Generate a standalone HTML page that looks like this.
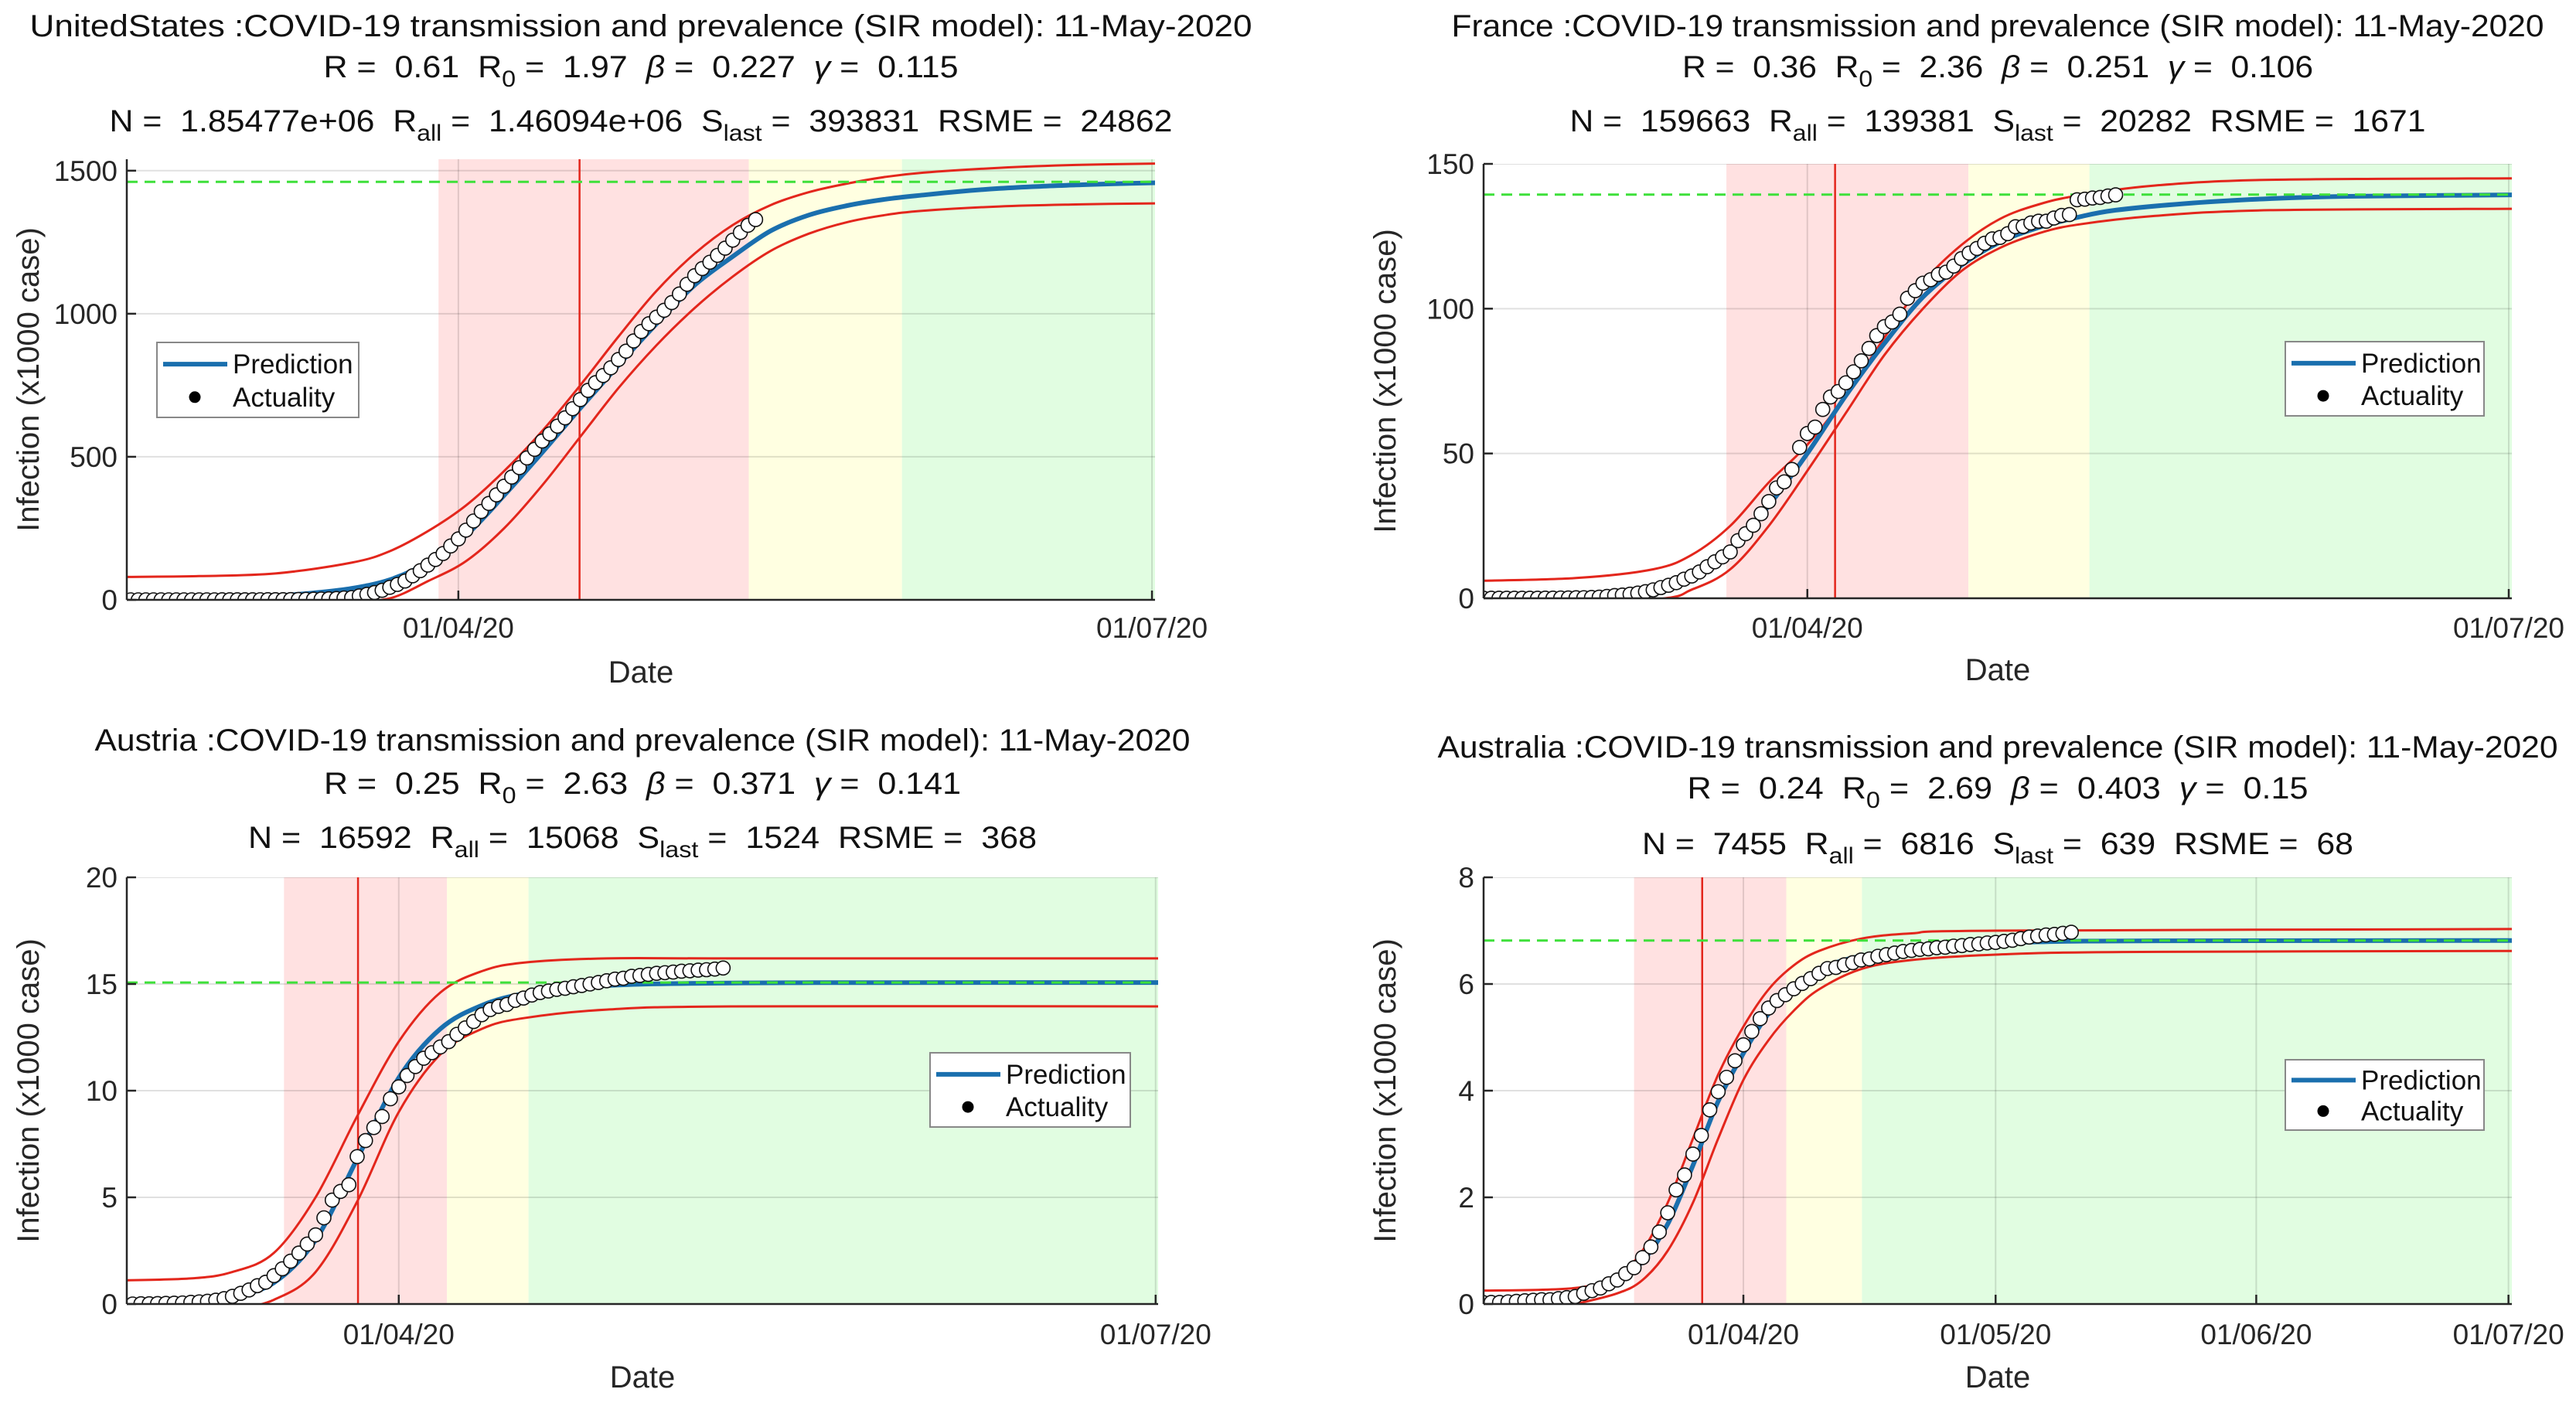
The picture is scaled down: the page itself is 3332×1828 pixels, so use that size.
<!DOCTYPE html>
<html><head><meta charset="utf-8">
<style>
html,body{margin:0;padding:0;background:#fff;}
svg{display:block;font-family:"Liberation Sans",Arial,sans-serif;}
text{white-space:pre;}
</style></head>
<body>
<svg id="fig" width="3332" height="1828" viewBox="0 0 3332 1828" xmlns="http://www.w3.org/2000/svg"></svg>
<script>
// ===== DATA (values in thousands of cases; days relative to 01/04/2020) =====
const usActualStart = -43;
const usActual = [0,0,0,0,0,0,0,0,0,0,0,0,
0.07,0.1,0.12,0.16,0.22,0.32,0.42,0.54,0.6,0.96,1.3,1.7,2.2,2.7,3.5,4.6,6.4,7.8,13.7,19.1,25.5,33.3,43.8,53.7,65.8,83.8,101.7,121.5,140.9,161.8,188.2,
213,243.5,275.6,308.9,337,367,397,429,462,496,526,555,580,607,636,668,700,732,759,784,811,840,869,905,938,965,988,1012,1039,1069,
1103,1133,1158,1180,1204,1229,1257,1284,1309,1329];
const usPredDays = [-44,-39,-34,-29,-24,-19,-14,-9,-4,1,6,11,16,21,26,31,36,41,46,51,56,61,66,71,76,81,86,92];
const usPred = [2,3,5,8,14,24,40,70,130,225,365,515,670,820,965,1100,1200,1290,1345,1378,1400,1415,1428,1438,1445,1450,1454,1458];
const usUpperDays = [-44,-34,-24,-14,-9,-4,1,6,11,16,21,26,31,36,41,46,51,56,61,71,81,92];
const usUpper = [80,83,92,130,170,240,330,450,590,750,920,1080,1210,1310,1380,1425,1455,1478,1493,1510,1520,1525];
const usLowerDays = [-44,-24,-19,-14,-9,-4,1,6,11,16,21,26,31,36,41,46,51,56,61,71,81,92];
const usLower = [-40,-15,-8,-3,5,65,135,250,400,570,740,890,1020,1130,1220,1280,1320,1345,1360,1375,1382,1386];

const frActualStart = -42;
const frActual = [0.01,0.01,0.01,0.01,0.01,0.01,0.02,0.03,0.04,0.06,0.1,
0.13,0.19,0.2,0.29,0.38,0.65,0.95,1.13,1.41,1.78,2.29,2.9,
3.7,4.5,5.4,6.6,7.7,9.1,10.9,12.6,14.3,16.0,19.9,22.3,25.2,29.2,33.4,38.1,40.2,44.5,52.1,
56.9,59.1,65.2,69.5,71.4,74.4,78.2,82.0,86.3,90.7,93.8,95.4,98.1,103.6,106.2,108.8,110.0,111.8,112.6,114.7,117.3,119.2,120.8,122.6,124.1,124.6,125.9,128.3,128.4,129.6,130.2,130.2,131.3,132.2,132.5,137.6,137.8,138.2,138.4,138.9,139.3];
const frPredDays = [-43,-30,-25,-20,-15,-10,-5,0,5,10,15,20,25,30,35,40,50,60,70,92];
const frPred = [0.5,1.2,2.2,4,8,16,32,50,70,88,104,115,123,128,131.5,134,136.5,138,138.8,139.3];
const frUpperDays = [-43,-30,-20,-15,-10,-5,0,5,10,15,20,25,30,35,45,60,92];
const frUpper = [6,7,10,15,25,40,53,70,90,109,122,131,136,139,142.5,144.5,145];
const frLowerDays = [-43,-20,-15,-10,-5,0,5,10,15,20,25,30,35,45,60,92];
const frLower = [-5,-0.5,3,10,25,44,64,84,100,113,121,126,129,132,134,134.5];

const atActualStart = -32;
const atActual = [0,0.01,0.01,0.02,0.03,0.04,0.05,0.08,0.1,0.13,0.18,
0.25,0.36,0.5,0.66,0.86,1.02,1.33,1.65,2.01,2.39,2.81,3.24,4.04,4.87,5.28,5.59,6.91,7.66,8.27,8.79,9.62,
10.18,10.71,11.13,11.52,11.78,12.05,12.3,12.64,12.94,13.24,13.56,13.8,13.95,14.04,14.23,14.34,14.48,14.6,14.67,14.75,14.8,14.87,14.93,15.0,15.07,15.15,15.23,15.27,15.36,15.4,
15.45,15.5,15.53,15.56,15.6,15.62,15.65,15.67,15.7,15.75];
const atPredDays = [-34,-25,-20,-15,-10,-5,0,5,10,15,20,30,50,92];
const atPred = [0,0.1,0.35,1.0,3.0,6.8,10.6,12.9,14.0,14.55,14.8,15.0,15.06,15.07];
const atUpperDays = [-34,-25,-20,-15,-10,-5,0,5,10,15,25,40,92];
const atUpper = [1.1,1.2,1.5,2.4,5,8.8,12.3,14.6,15.6,16.0,16.2,16.2,16.2];
const atLowerDays = [-34,-22,-20,-15,-10,-5,0,5,10,15,25,40,92];
const atLower = [-1,-0.5,-0.3,0.2,1.5,4.8,9,11.7,12.9,13.4,13.8,13.95,13.95];

const auActualStart = -31;
const auActual = [0.03,0.03,0.03,0.04,0.05,0.06,0.07,0.08,0.08,0.1,0.12,0.14,0.2,0.25,
0.3,0.38,0.45,0.57,0.68,0.87,1.07,1.35,1.71,2.14,2.42,2.81,3.16,3.64,3.98,4.25,4.56,
4.86,5.11,5.35,5.55,5.69,5.8,5.91,6.01,6.1,6.2,6.29,6.31,6.36,6.4,6.45,6.47,6.52,6.55,6.58,6.61,6.63,6.65,6.66,6.68,6.69,6.71,6.72,6.74,6.75,6.77,
6.78,6.8,6.82,6.85,6.88,6.9,6.92,6.93,6.95,6.97];
const auPredDays = [-32,-20,-15,-12,-9,-6,-3,0,3,6,9,12,17,25,35,50,92];
const auPred = [0.01,0.1,0.4,0.8,1.5,2.6,3.8,4.7,5.45,5.95,6.25,6.45,6.6,6.72,6.79,6.81,6.816];
const auUpperDays = [-32,-20,-15,-12,-9,-6,-3,0,3,6,9,14,20,30,92];
const auUpper = [0.25,0.3,0.55,1.0,1.9,3.1,4.3,5.2,5.9,6.35,6.62,6.85,6.95,7.0,7.03];
const auLowerDays = [-32,-22,-20,-15,-12,-9,-6,-3,0,3,6,9,14,20,30,45,92];
const auLower = [-0.2,-0.05,0,0.2,0.45,1.0,1.9,3.1,4.2,4.95,5.5,5.9,6.28,6.45,6.55,6.6,6.62];

const rAll = [1460.94, 139.381, 15.068, 6.816];
const yTicksUS = [0,500,1000,1500];
const yTicksFR = [0,50,100,150];
const yTicksAT = [0,5,10,15,20];
const yTicksAU = [0,2,4,6,8];
const xTickDaysShort = [0,91];
const xTickLabelsShort = ["01/04/20","01/07/20"];
const xTickDaysAU = [0,30,61,91];
const xTickLabelsAU = ["01/04/20","01/05/20","01/06/20","01/07/20"];
// phase boundaries (days): red start, red end / yellow end, and peak line
const usPhases = [-2.6,38.1,58.2,15.9];
const frPhases = [-10.5,20.9,36.6,3.6];
const atPhases = [-13.8,5.8,15.6,-4.9];
const auPhases = [-13,5.1,14.1,-4.9];

// ===== LAYOUT =====
const NS="http://www.w3.org/2000/svg";
const svg=document.getElementById('fig');
function mk(tag,attrs,parent){const e=document.createElementNS(NS,tag);for(const k in attrs)e.setAttribute(k,attrs[k]);(parent||svg).appendChild(e);return e;}

const panels=[
 {id:'us',name:'UnitedStates',x0:164,x1:1494,yb:776,yt:206,ymax:1540,dmin:-43.5,dmax:91.4,
  yTicks:yTicksUS,xd:xTickDaysShort,xl:xTickLabelsShort,ph:usPhases,
  act:usActual,actStart:usActualStart,pd:usPredDays,pv:usPred,ud:usUpperDays,uv:usUpper,ld:usLowerDays,lv:usLower,rall:rAll[0],
  t:[34,87,157],tw:[1581,821,1375],
  l2:['0.61','1.97','0.227','0.115'],l3:['1.85477e+06','1.46094e+06','393831','24862'],
  leg:[203,443,464,540],xlY:812,xtY:869},
 {id:'fr',name:'France',x0:1919,x1:3249,yb:774,yt:212,ymax:150,dmin:-42.0,dmax:91.4,
  yTicks:yTicksFR,xd:xTickDaysShort,xl:xTickLabelsShort,ph:frPhases,
  act:frActual,actStart:frActualStart,pd:frPredDays,pv:frPred,ud:frUpperDays,uv:frUpper,ld:frLowerDays,lv:frLower,rall:rAll[1],
  t:[34,87,157],tw:[1413,816,1107],
  l2:['0.36','2.36','0.251','0.106'],l3:['159663','139381','20282','1671'],
  leg:[2956,442,3213,538],xlY:812,xtY:866},
 {id:'at',name:'Austria',x0:164,x1:1498,yb:1687,yt:1135,ymax:20,dmin:-32.7,dmax:91.3,
  yTicks:yTicksAT,xd:xTickDaysShort,xl:xTickLabelsShort,ph:atPhases,
  act:atActual,actStart:atActualStart,pd:atPredDays,pv:atPred,ud:atUpperDays,uv:atUpper,ld:atLowerDays,lv:atLower,rall:rAll[2],
  t:[958,1014,1084],tw:[1417,824,1020],
  l2:['0.25','2.63','0.371','0.141'],l3:['16592','15068','1524','368'],
  leg:[1203,1362,1462,1458],xlY:1726,xtY:1781},
 {id:'au',name:'Australia',x0:1919,x1:3249,yb:1687,yt:1135,ymax:8,dmin:-30.9,dmax:91.4,
  yTicks:yTicksAU,xd:xTickDaysAU,xl:xTickLabelsAU,ph:auPhases,
  act:auActual,actStart:auActualStart,pd:auPredDays,pv:auPred,ud:auUpperDays,uv:auUpper,ld:auLowerDays,lv:auLower,rall:rAll[3],
  t:[967,1020,1092],tw:[1449,803,920],
  l2:['0.24','2.69','0.403','0.15'],l3:['7455','6816','639','68'],
  leg:[2956,1371,3213,1462],xlY:1726,xtY:1781}
];

function crPath(pts){
  let d='M'+pts[0][0].toFixed(1)+','+pts[0][1].toFixed(1);
  for(let i=0;i<pts.length-1;i++){
    const p0=pts[Math.max(0,i-1)],p1=pts[i],p2=pts[i+1],p3=pts[Math.min(pts.length-1,i+2)];
    const c1=[p1[0]+(p2[0]-p0[0])/6,p1[1]+(p2[1]-p0[1])/6];
    const c2=[p2[0]-(p3[0]-p1[0])/6,p2[1]-(p3[1]-p1[1])/6];
    d+=' C'+c1[0].toFixed(1)+','+c1[1].toFixed(1)+' '+c2[0].toFixed(1)+','+c2[1].toFixed(1)+' '+p2[0].toFixed(1)+','+p2[1].toFixed(1);
  }
  return d;
}

panels.forEach(P=>{
  const g=mk('g',{});
  
  
  const xs=d=>P.x0+(d-P.dmin)/(P.dmax-P.dmin)*(P.x1-P.x0);
  const ys=v=>P.yb-v/P.ymax*(P.yb-P.yt);
  const cx=(P.x0+P.x1)/2;
  // titles
  const t1=mk('text',{x:cx,y:P.t[0]+13,'text-anchor':'middle','font-size':40,textLength:P.tw[0],lengthAdjust:'spacingAndGlyphs',fill:'#111'},g);
  t1.textContent=P.name+' :COVID-19 transmission and prevalence (SIR model): 11-May-2020';
  
  
  const t2=mk('text',{x:cx,y:P.t[1]+13,'text-anchor':'middle','font-size':40,textLength:P.tw[1],lengthAdjust:'spacingAndGlyphs',fill:'#111'},g);
  t2.innerHTML='R =  '+P.l2[0]+'  R<tspan font-size="30" dy="12">0</tspan><tspan dy="-12"> =  '+P.l2[1]+'  </tspan><tspan font-style="italic">β</tspan> =  '+P.l2[2]+'  <tspan font-style="italic">γ</tspan> =  '+P.l2[3];
  
  
  const t3=mk('text',{x:cx,y:P.t[2]+13,'text-anchor':'middle','font-size':40,textLength:P.tw[2],lengthAdjust:'spacingAndGlyphs',fill:'#111'},g);
  t3.innerHTML='N =  '+P.l3[0]+'  R<tspan font-size="30" dy="12">all</tspan><tspan dy="-12"> =  '+P.l3[1]+'  S</tspan><tspan font-size="30" dy="12">last</tspan><tspan dy="-12"> =  '+P.l3[2]+'  RSME =  '+P.l3[3]+'</tspan>';
  
  

  // clip
  const cp=mk('clipPath',{id:'clip-'+P.id},g);
  mk('rect',{x:P.x0,y:P.yt,width:P.x1-P.x0,height:P.yb-P.yt},cp);
  const pg=mk('g',{'clip-path':'url(#clip-'+P.id+')'},g);

  // phase bands
  const bands=[[P.ph[0],P.ph[1],'#ffe1e1','red-phase-band'],[P.ph[1],P.ph[2],'#ffffe1','yellow-phase-band'],[P.ph[2],P.dmax,'#e1fde1','green-phase-band']];
  bands.forEach(b=>{
    const r=mk('rect',{x:xs(b[0]),y:P.yt,width:xs(b[1])-xs(b[0]),height:P.yb-P.yt,fill:b[2]},pg);
    
    
  });
  // grid
  P.yTicks.forEach(v=>{
    const l=mk('line',{x1:P.x0,x2:P.x1,y1:ys(v),y2:ys(v),stroke:'#000','stroke-opacity':0.12,'stroke-width':2},pg);
    
    
  });
  P.xd.forEach(d=>{
    const l=mk('line',{x1:xs(d),x2:xs(d),y1:P.yt,y2:P.yb,stroke:'#000','stroke-opacity':0.12,'stroke-width':2},pg);
    
    
  });
  // peak line
  const pk=mk('line',{x1:xs(P.ph[3]),x2:xs(P.ph[3]),y1:P.yt,y2:P.yb,stroke:'#e3261c','stroke-width':2.5},pg);
  
  
  // bounds
  const up=mk('path',{d:crPath(P.ud.map((d,i)=>[xs(d),ys(P.uv[i])])),fill:'none',stroke:'#e3261c','stroke-width':3},pg);
  
  
  const lo=mk('path',{d:crPath(P.ld.map((d,i)=>[xs(d),ys(P.lv[i])])),fill:'none',stroke:'#e3261c','stroke-width':3},pg);
  
  
  // prediction
  const pr=mk('path',{d:crPath(P.pd.map((d,i)=>[xs(d),ys(P.pv[i])])),fill:'none',stroke:'#1a6fae','stroke-width':6},pg);
  
  
  // R_all dashed
  const ra=mk('line',{x1:P.x0,x2:P.x1,y1:ys(P.rall),y2:ys(P.rall),stroke:'#3ee03a','stroke-width':3,'stroke-dasharray':'14,9'},pg);
  
  
  // actual dots
  P.act.forEach((v,i)=>{
    const c=mk('circle',{cx:xs(P.actStart+i),cy:ys(v),r:9,fill:'#fff',stroke:'#111','stroke-width':1.6},pg);
    
    
  });

  // axes
  const ax=mk('line',{x1:P.x0,x2:P.x0,y1:P.yt,y2:P.yb,stroke:'#262626','stroke-width':2.5},g);
  
  
  const bx=mk('line',{x1:P.x0,x2:P.x1,y1:P.yb,y2:P.yb,stroke:'#262626','stroke-width':2.5},g);
  
  
  P.yTicks.forEach(v=>{
    mk('line',{x1:P.x0,x2:P.x0+12,y1:ys(v),y2:ys(v),stroke:'#262626','stroke-width':2.5},g);
    const t=mk('text',{x:P.x0-12,y:ys(v)+13,'text-anchor':'end','font-size':37,fill:'#262626'},g);
    t.textContent=v;
    
    
  });
  P.xd.forEach((d,i)=>{
    mk('line',{x1:xs(d),x2:xs(d),y1:P.yb,y2:P.yb-12,stroke:'#262626','stroke-width':2.5},g);
    const t=mk('text',{x:xs(d),y:P.xlY+13,'text-anchor':'middle','font-size':37,fill:'#262626'},g);
    t.textContent=P.xl[i];
    
    
  });
  const xl=mk('text',{x:cx,y:P.xtY+14,'text-anchor':'middle','font-size':40,fill:'#262626'},g);
  xl.textContent='Date';
  
  
  const ymid=(P.yt+P.yb)/2;
  const yl=mk('text',{x:0,y:0,'text-anchor':'middle','font-size':40,fill:'#262626',transform:'translate('+(P.x0-114)+','+ymid+') rotate(-90)'},g);
  yl.textContent='Infection (x1000 case)';
  
  

  // legend
  const L=P.leg;
  const lg=mk('g',{},g);
  
  
  mk('rect',{x:L[0],y:L[1],width:L[2]-L[0],height:L[3]-L[1],fill:'#fff',stroke:'#888','stroke-width':2},lg);
  const h=(L[3]-L[1]);
  const e1=mk('line',{x1:L[0]+8,x2:L[0]+91,y1:L[1]+h*0.29,y2:L[1]+h*0.29,stroke:'#1a6fae','stroke-width':6},lg);
  
  
  const tx1=mk('text',{x:L[0]+98,y:L[1]+h*0.29+12,'font-size':35,fill:'#111'},lg);
  tx1.textContent='Prediction';
  
  
  const e2=mk('circle',{cx:L[0]+49,cy:L[1]+h*0.73,r:7.5,fill:'#000'},lg);
  
  
  const tx2=mk('text',{x:L[0]+98,y:L[1]+h*0.73+12,'font-size':35,fill:'#111'},lg);
  tx2.textContent='Actuality';
  
  
});
</script>
</body></html>
